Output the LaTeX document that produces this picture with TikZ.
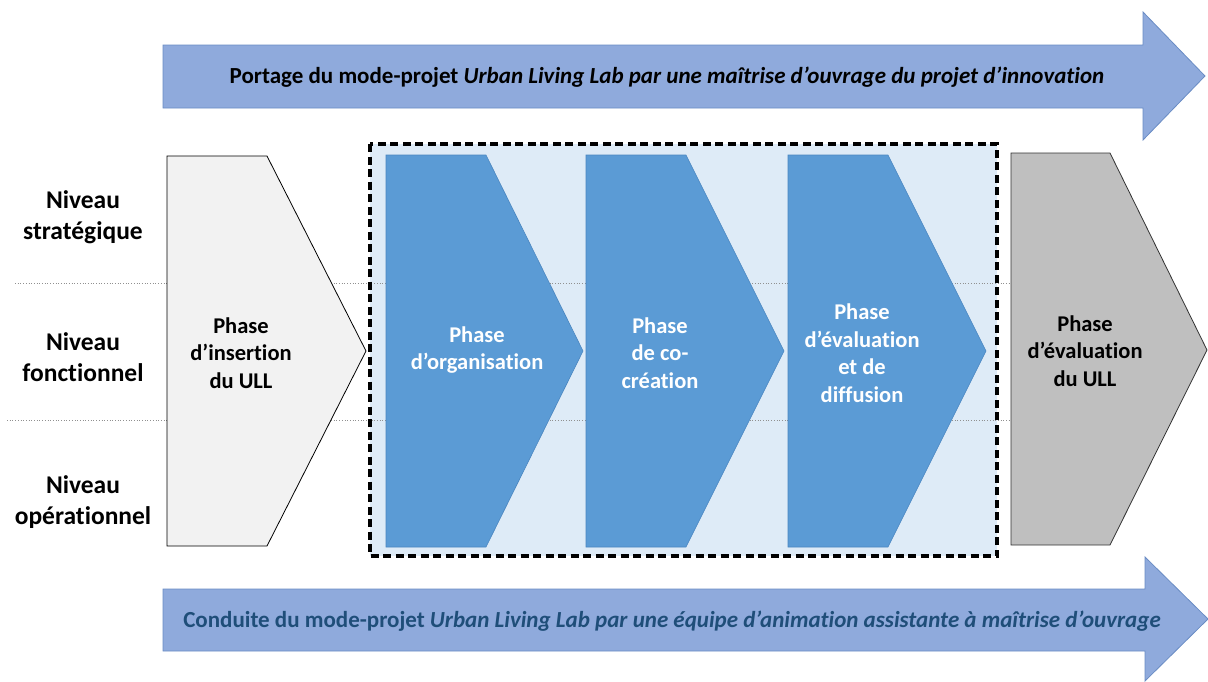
\documentclass[tikz,border=0pt]{standalone}
\usepackage{fontspec}
\setmainfont{Carlito}[Ligatures={NoCommon}]
\definecolor{arrowfill}{HTML}{8FAADC}
\definecolor{arrowdraw}{HTML}{6A8CC4}
\definecolor{chevblue}{HTML}{5B9BD5}
\definecolor{chevdraw}{HTML}{4A86C0}
\definecolor{boxfill}{HTML}{DEEBF7}
\definecolor{lightgrayfill}{HTML}{F2F2F2}
\definecolor{grayfill}{HTML}{BFBFBF}
\definecolor{darkblue}{HTML}{1F4E79}
\definecolor{dotgray}{HTML}{909090}
\tikzset{
  bigarrow/.style={fill=arrowfill, draw=arrowdraw, line width=0.8pt},
  bluechev/.style={fill=chevblue, draw=chevdraw, line width=0.6pt},
  lightchev/.style={fill=lightgrayfill, draw=black, line width=0.8pt},
  graychev/.style={fill=grayfill, draw=black!80, line width=0.8pt},
  phasetext/.style={align=center, font=\fontsize{22.5}{27.5}\selectfont\bfseries, inner sep=0pt},
  leveltext/.style={align=center, font=\fontsize{25.5}{30.5}\selectfont\bfseries, inner sep=0pt},
  bandtext/.style={font=\fontsize{23}{27}\selectfont\bfseries, inner sep=0pt},
  levelline/.style={draw=dotgray, line width=0.7pt, dotted},
  phasebox/.style={draw=black, line width=3.4pt, dash pattern=on 8pt off 4.5pt}
}
\begin{document}
\begin{tikzpicture}[x=1pt,y=-1pt]
\useasboundingbox (0,0) rectangle (1208,681);
% top arrow
\draw[bigarrow] (163,45) -- (1143,45) -- (1143,12) -- (1205,76) -- (1143,140) -- (1143,108) -- (163,108) -- cycle;
\node[bandtext] (top) at (667,77) {Portage du mode-projet \textit{Urban Living Lab par une maîtrise d’ouvrage du projet d’innovation}};
% bottom arrow
\draw[bigarrow] (163,589) -- (1145,589) -- (1145,557) -- (1208,619) -- (1145,681) -- (1145,651) -- (163,651) -- cycle;
\node[bandtext, text=darkblue] (bottom) at (672,621) {Conduite du mode-projet \textit{Urban Living Lab par une équipe d’animation assistante à maîtrise d’ouvrage}};
% dashed box fill
\fill[boxfill] (370,144) rectangle (997,556);
% level lines
\draw[levelline] (15,283) -- (1011,283);
\draw[levelline] (7,420) -- (1011,420);
% chevrons
\draw[lightchev] (167,156) -- (267,156) -- (366,351) -- (267,546) -- (167,546) -- cycle;
\draw[bluechev] (386,155) -- (486,155) -- (583,351) -- (486,547) -- (386,547) -- cycle;
\draw[bluechev] (586,155) -- (686,155) -- (784,351) -- (686,547) -- (586,547) -- cycle;
\draw[bluechev] (788,155) -- (888,155) -- (986,351) -- (888,547) -- (788,547) -- cycle;
\draw[graychev] (1011,153) -- (1110,153) -- (1207,350) -- (1110,545) -- (1011,545) -- cycle;
% dashed border
\draw[phasebox] (370,144) rectangle (997,556);
% phase texts
\node[phasetext] (p0) at (241,353) {Phase\\d’insertion\\du ULL};
\node[phasetext, text=white] (p1) at (477,350) {Phase\\d’organisation};
\node[phasetext, text=white] (p2) at (660,353) {Phase\\de co-\\création};
\node[phasetext, text=white] (p3) at (862,353) {Phase\\d’évaluation\\et de\\diffusion};
\node[phasetext] (p4) at (1085,351) {Phase\\d’évaluation\\du ULL};
% level labels
\node[leveltext] (l1) at (83,217) {Niveau\\stratégique};
\node[leveltext] (l2) at (83,357) {Niveau\\fonctionnel};
\node[leveltext] (l3) at (83,502) {Niveau\\opérationnel};
\end{tikzpicture}
\end{document}
